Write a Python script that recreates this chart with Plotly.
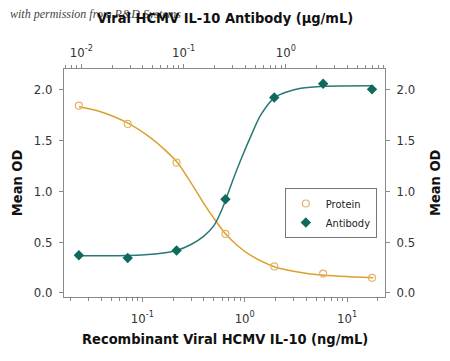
import plotly.graph_objects as go

# measured points
conc = [0.024, 0.072, 0.216, 0.648, 1.944, 5.832, 17.5]
protein_od = [1.84, 1.66, 1.28, 0.58, 0.26, 0.19, 0.148]
antibody_od = [0.37, 0.343, 0.417, 0.92, 1.92, 2.055, 2.00]

# fitted curves
protein_fit_x = [0.0241, 0.0365, 0.0718, 0.1216, 0.164, 0.219, 0.296, 0.399, 0.52, 0.652, 0.847, 1.145, 1.97, 3.54, 5.56, 18.0]
protein_fit_y = [1.83, 1.79, 1.67, 1.52, 1.41, 1.283, 1.088, 0.878, 0.709, 0.578, 0.466, 0.368, 0.255, 0.20, 0.175, 0.148]
antibody_fit_x = [0.0241, 0.072, 0.14, 0.219, 0.296, 0.399, 0.500, 0.582, 0.656, 0.757, 0.914, 1.145, 1.435, 1.968, 2.62, 3.54, 6.0, 18.0]
antibody_fit_y = [0.365, 0.367, 0.385, 0.42, 0.473, 0.558, 0.661, 0.791, 0.921, 1.095, 1.306, 1.538, 1.749, 1.922, 1.977, 2.010, 2.03, 2.035]

y_ticks = [0, 0.5, 1.0, 1.5, 2.0]
y_ticklabels = ["0.0", "0.5", "1.0", "1.5", "2.0"]
bottom_tickvals = [0.1, 1, 10]
bottom_ticktext = ["10<sup>-1</sup>", "10<sup>0</sup>", "10<sup>1</sup>"]
top_tickvals = [0.01, 0.1, 1]
top_ticktext = ["10<sup>-2</sup>", "10<sup>-1</sup>", "10<sup>0</sup>"]

minor_bottom = [m * 10 ** e for e in range(-2, 2) for m in range(2, 10)]
minor_top = [m * 10 ** e for e in range(-3, 1) for m in range(2, 10)]

top_title = "Viral HCMV IL-10 Antibody (μg/mL)"
bottom_title = "Recombinant Viral HCMV IL-10 (ng/mL)"
y_title = "Mean OD"
watermark = "with permission from R&D Systems"

FONT = "DejaVu Sans Condensed, Liberation Sans, sans-serif"
ORANGE = "#DDA030"
ORANGE_M = "#E2B46A"
TEAL = "#2A7872"
TEAL_M = "#0E6A5C"
AX = "#8A8A8A"

fig = go.Figure()
fig.add_trace(go.Scatter(x=protein_fit_x, y=protein_fit_y, mode="lines", line=dict(color=ORANGE, width=1.5, shape="spline", smoothing=0.8), showlegend=False, hoverinfo="skip"))
fig.add_trace(go.Scatter(x=antibody_fit_x, y=antibody_fit_y, mode="lines", line=dict(color=TEAL, width=1.5, shape="spline", smoothing=0.8), showlegend=False, hoverinfo="skip"))
fig.add_trace(go.Scatter(x=conc, y=protein_od, mode="markers", name="Protein",
                         marker=dict(symbol="circle-open", size=7, color=ORANGE_M, line=dict(width=1.2, color=ORANGE_M))))
fig.add_trace(go.Scatter(x=conc, y=antibody_od, mode="markers", name="Antibody",
                         marker=dict(symbol="diamond", size=8, color=TEAL_M)))
# invisible trace for secondary axes
fig.add_trace(go.Scatter(x=top_tickvals, y=y_ticks[:3], xaxis="x2", yaxis="y2", mode="markers", marker=dict(opacity=0), showlegend=False, hoverinfo="skip"))

tickfont = dict(family=FONT, size=13, color="#333333")
titlefont = dict(family=FONT, size=14.5, color="#111111", weight="bold")

common = dict(showline=True, linecolor=AX, linewidth=1, automargin=False, tickcolor=AX,
              showgrid=False, zeroline=False, tickfont=tickfont, ticks="outside")

fig.update_layout(
    width=434, height=345,
    margin=dict(l=56, r=57, t=61, b=56, autoexpand=False),
    paper_bgcolor="white", plot_bgcolor="white",
    showlegend=True,
    legend=dict(x=0.688, y=0.478, xanchor="left", yanchor="top",
                bgcolor="white", bordercolor="#777777", borderwidth=1,
                font=dict(family=FONT, size=11, color="#222222"),
                itemwidth=30, tracegroupgap=2),
    xaxis=dict(type="log", range=[-1.765, 1.37], ticklen=4,
               tickvals=bottom_tickvals, ticktext=bottom_ticktext, ticklabelstandoff=5,
               minor=dict(tickvals=minor_bottom, ticks="outside", ticklen=3, tickcolor=AX), **common),
    xaxis2=dict(type="log", range=[-2.17, 0.97], overlaying="x", side="top", anchor="y", ticklen=4,
                tickvals=top_tickvals, ticktext=top_ticktext, ticklabelstandoff=2,
                minor=dict(tickvals=minor_top, ticks="outside", ticklen=3, tickcolor=AX), **common),
    yaxis=dict(range=[-0.04, 2.2], ticklen=4, tickvals=y_ticks, ticktext=y_ticklabels,
               ticklabelstandoff=4, **common),
    yaxis2=dict(range=[-0.04, 2.2], overlaying="y", side="right", anchor="x", ticklen=4,
                tickvals=y_ticks, ticktext=y_ticklabels, ticklabelstandoff=4, **common),
)

fig.add_annotation(text=watermark, xref="paper", yref="paper",
                   x=-0.1745, y=1.241, xanchor="left", yanchor="middle", showarrow=False,
                   font=dict(family="Liberation Serif, DejaVu Serif, serif", size=12, color="#444444", style="italic"))
fig.add_annotation(text=top_title, xref="paper", yref="paper", x=0.5016, y=1.2237,
                   xanchor="center", yanchor="middle", showarrow=False, font=titlefont)
fig.add_annotation(text=bottom_title, xref="paper", yref="paper", x=0.5016, y=-0.184,
                   xanchor="center", yanchor="middle", showarrow=False, font=titlefont)
fig.add_annotation(text=y_title, xref="paper", yref="paper", x=-0.146, y=0.5,
                   xanchor="center", yanchor="middle", showarrow=False, textangle=-90, font=titlefont)
fig.add_annotation(text=y_title, xref="paper", yref="paper", x=1.156, y=0.5,
                   xanchor="center", yanchor="middle", showarrow=False, textangle=-90, font=titlefont)

fig.write_html("out.html")
